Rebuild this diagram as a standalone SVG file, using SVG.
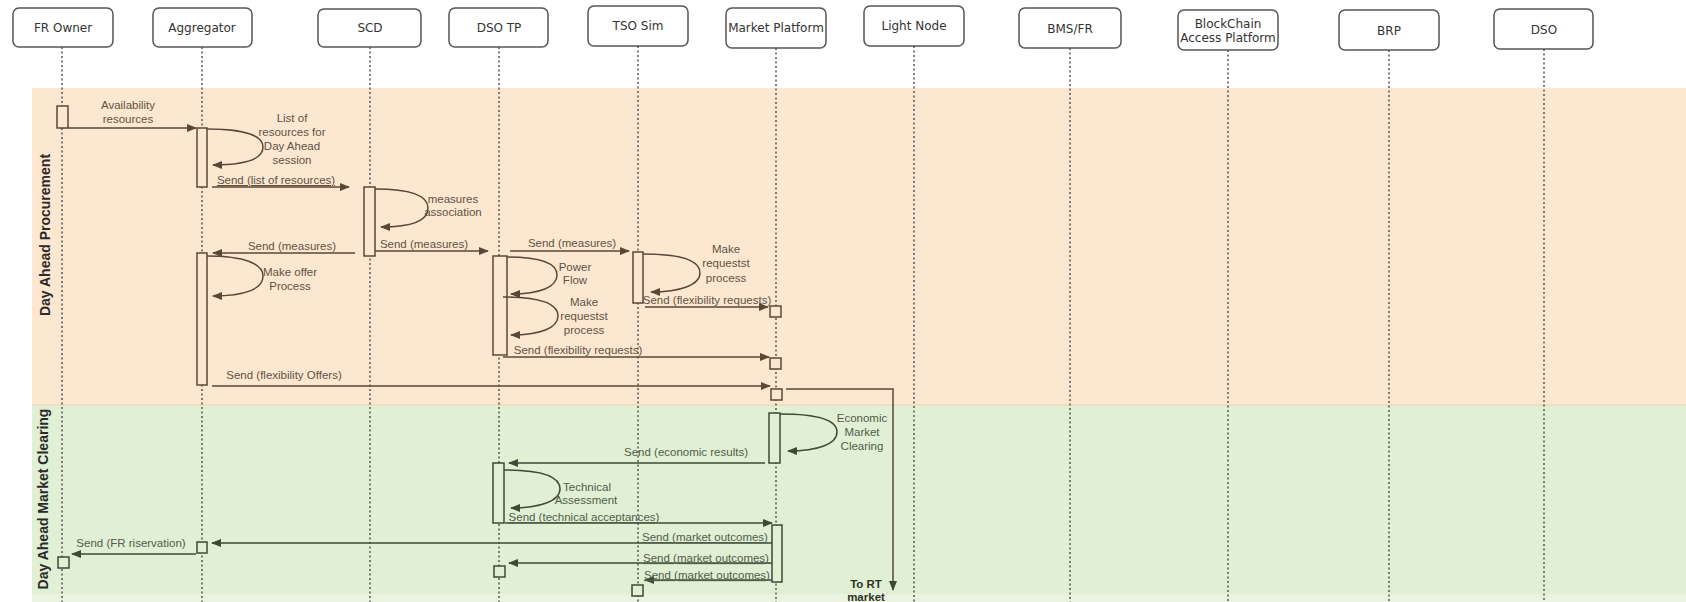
<svg xmlns="http://www.w3.org/2000/svg" width="1686" height="602" viewBox="0 0 1686 602">
  <style>
    .head rect { fill: #ffffff; stroke: #555555; stroke-width: 1.5; }
    .head text { font-family: "DejaVu Sans", Verdana, sans-serif; font-size: 12px; fill: #333333; text-anchor: middle; }
    .life { stroke: #555555; stroke-width: 1.5; stroke-dasharray: 2 2.5; fill: none; }
    .lane-title { font-family: "Liberation Sans", Arial, sans-serif; font-size: 14px; font-weight: bold; fill: #2a2a2a; text-anchor: middle; }
    .ln-o { stroke: #594838; stroke-width: 1.5; fill: none; }
    .ln-g { stroke: #3d4a35; stroke-width: 1.5; fill: none; }
    .act-o { fill: #fde7d1; stroke: #594838; stroke-width: 1.5; }
    .act-g { fill: #e1efd5; stroke: #3d4a35; stroke-width: 1.5; }
    .lbl { font-family: "Liberation Sans", Arial, sans-serif; font-size: 11.5px; text-anchor: middle; }
    .t-o { fill: #615244; }
    .t-g { fill: #515d4a; }
    .u { text-decoration: underline; }
  </style>
  <defs>
    <marker id="arr-o" markerUnits="userSpaceOnUse" markerWidth="10" markerHeight="8" refX="9" refY="4" orient="auto">
      <path d="M0,0 L10,4 L0,8 z" fill="#594838"/>
    </marker>
    <marker id="arr-g" markerUnits="userSpaceOnUse" markerWidth="10" markerHeight="8" refX="9" refY="4" orient="auto">
      <path d="M0,0 L10,4 L0,8 z" fill="#3d4a35"/>
    </marker>
  </defs>

  <!-- swimlane bands -->
  <g id="lanes">
    <rect x="32" y="88" width="1654" height="317" fill="#fde7d1"/>
    <rect x="32" y="405" width="1654" height="189" fill="#e1efd5"/>
    <rect x="32" y="594" width="1654" height="8" fill="#e9f3df"/>
    <line x1="32" y1="405" x2="1686" y2="405" stroke="#ead2b6" stroke-width="1"/>
    <text class="lane-title" transform="translate(45,235) rotate(-90)" dy="5">Day Ahead Procurement</text>
    <text class="lane-title" transform="translate(43,499) rotate(-90)" dy="5">Day Ahead Market Clearing</text>
  </g>

  <!-- lifelines -->
  <g id="lifelines">
    <line class="life" x1="62" y1="47" x2="62" y2="602"/>
    <line class="life" x1="202" y1="47" x2="202" y2="602"/>
    <line class="life" x1="370" y1="47" x2="370" y2="602"/>
    <line class="life" x1="499" y1="47" x2="499" y2="602"/>
    <line class="life" x1="638" y1="46" x2="638" y2="602"/>
    <line class="life" x1="776" y1="48" x2="776" y2="602"/>
    <line class="life" x1="914" y1="46" x2="914" y2="602"/>
    <line class="life" x1="1070" y1="48" x2="1070" y2="602"/>
    <line class="life" x1="1228" y1="50" x2="1228" y2="602"/>
    <line class="life" x1="1389" y1="50" x2="1389" y2="602"/>
    <line class="life" x1="1544" y1="49" x2="1544" y2="602"/>
  </g>

  <!-- participants -->
  <g id="fr-owner" class="head"><rect x="13" y="8" width="100" height="39" rx="6"/><text x="63" y="32">FR Owner</text></g>
  <g id="aggregator" class="head"><rect x="153" y="8" width="99" height="39" rx="6"/><text x="202" y="32">Aggregator</text></g>
  <g id="scd" class="head"><rect x="318" y="9" width="103" height="38" rx="6"/><text x="370" y="32">SCD</text></g>
  <g id="dso-tp" class="head"><rect x="449" y="8" width="99" height="39" rx="6"/><text x="499" y="32">DSO TP</text></g>
  <g id="tso-sim" class="head"><rect x="588" y="6" width="100" height="40" rx="6"/><text x="638" y="30">TSO Sim</text></g>
  <g id="market-platform" class="head"><rect x="726" y="8" width="100" height="40" rx="6"/><text x="776" y="32">Market Platform</text></g>
  <g id="light-node" class="head"><rect x="864" y="6" width="100" height="40" rx="6"/><text x="914" y="30">Light Node</text></g>
  <g id="bms-fr" class="head"><rect x="1019" y="8" width="102" height="40" rx="6"/><text x="1070" y="33">BMS/FR</text></g>
  <g id="blockchain" class="head"><rect x="1178" y="10" width="100" height="40" rx="6"/><text x="1228" y="28">BlockChain</text><text x="1228" y="42">Access Platform</text></g>
  <g id="brp" class="head"><rect x="1339" y="10" width="100" height="40" rx="6"/><text x="1389" y="35">BRP</text></g>
  <g id="dso" class="head"><rect x="1494" y="9" width="99" height="40" rx="6"/><text x="1544" y="34">DSO</text></g>

  <!-- activation bars and receipt boxes -->
  <g id="activations">
    <rect class="act-o" x="57" y="106" width="11" height="22"/>
    <rect class="act-o" x="197" y="128" width="10" height="59"/>
    <rect class="act-o" x="364" y="187" width="11" height="69"/>
    <rect class="act-o" x="197" y="253" width="10" height="132"/>
    <rect class="act-o" x="493" y="256" width="14" height="99"/>
    <rect class="act-o" x="633" y="252" width="10" height="51"/>
    <rect class="act-o" x="770" y="306" width="11" height="11"/>
    <rect class="act-o" x="770" y="358" width="11" height="11"/>
    <rect class="act-o" x="771" y="389" width="11" height="11"/>
    <rect class="act-g" x="769" y="413" width="11" height="50"/>
    <rect class="act-g" x="493" y="463" width="11" height="60"/>
    <rect class="act-g" x="772" y="525" width="10" height="57"/>
    <rect class="act-g" x="197" y="542" width="10" height="11"/>
    <rect class="act-g" x="58" y="557" width="11" height="11"/>
    <rect class="act-g" x="494" y="566" width="11" height="11"/>
    <rect class="act-g" x="632" y="585" width="11" height="11"/>
  </g>

  <!-- messages -->
  <g id="connectors">
    <!-- Day Ahead Procurement -->
    <path class="ln-o" d="M68,128 L196,128" marker-end="url(#arr-o)"/>
    <path class="ln-o" d="M207,129 C245,129 263,136 263,147 C263,159 245,165 213,165" marker-end="url(#arr-o)"/>
    <path class="ln-o" d="M212,187 L349,187" marker-end="url(#arr-o)"/>
    <path class="ln-o" d="M375,189 C412,189 428,196 428,208 C428,221 410,227 381,227" marker-end="url(#arr-o)"/>
    <path class="ln-o" d="M355,253 L213,253" marker-end="url(#arr-o)"/>
    <path class="ln-o" d="M375,251 L488,251" marker-end="url(#arr-o)"/>
    <path class="ln-o" d="M207,256 C245,256 263,264 263,276 C263,289 245,296 213,296" marker-end="url(#arr-o)"/>
    <path class="ln-o" d="M510,251 L629,251" marker-end="url(#arr-o)"/>
    <path class="ln-o" d="M507,257 C543,257 557,264 557,275 C557,287 540,294 511,294" marker-end="url(#arr-o)"/>
    <path class="ln-o" d="M503,297 C543,297 558,305 558,316 C558,328 540,335 511,335" marker-end="url(#arr-o)"/>
    <path class="ln-o" d="M643,254 C683,254 700,261 700,273 C700,285 680,292 651,292" marker-end="url(#arr-o)"/>
    <path class="ln-o" d="M645,307 L768,307" marker-end="url(#arr-o)"/>
    <path class="ln-o" d="M503,357 L769,357" marker-end="url(#arr-o)"/>
    <path class="ln-o" d="M212,386 L770,386" marker-end="url(#arr-o)"/>
    <path class="ln-o" d="M786,389 L893,389 L893,590" stroke="#4a4a38" marker-end="url(#arr-g)"/>
    <!-- Day Ahead Market Clearing -->
    <path class="ln-g" d="M780,414 C820,414 837,421 837,432 C837,444 818,451 788,451" marker-end="url(#arr-g)"/>
    <path class="ln-g" d="M765,463 L509,463" marker-end="url(#arr-g)"/>
    <path class="ln-g" d="M504,470 C543,470 560,477 560,489 C560,501 540,508 511,508" marker-end="url(#arr-g)"/>
    <path class="ln-g" d="M505,523 L772,523" marker-end="url(#arr-g)"/>
    <path class="ln-g" d="M772,543 L212,543" marker-end="url(#arr-g)"/>
    <path class="ln-g" d="M196,554 L72,554" marker-end="url(#arr-g)"/>
    <path class="ln-g" d="M772,563 L509,563" marker-end="url(#arr-g)"/>
    <path class="ln-g" d="M772,580 L645,580" marker-end="url(#arr-g)"/>
  </g>

  <!-- message labels -->
  <g id="labels" class="lbl">
    <text class="t-o" x="128" y="109">Availability</text>
    <text class="t-o" x="128" y="123">resources</text>
    <text class="t-o" x="292" y="122">List of</text>
    <text class="t-o" x="292" y="136">resources for</text>
    <text class="t-o" x="292" y="150">Day Ahead</text>
    <text class="t-o" x="292" y="164">session</text>
    <text class="t-o u" x="276" y="184">Send (list of resources)</text>
    <text class="t-o" x="453" y="203">measures</text>
    <text class="t-o" x="453" y="216">association</text>
    <text class="t-o" x="292" y="250">Send (measures)</text>
    <text class="t-o" x="424" y="248">Send (measures)</text>
    <text class="t-o" x="572" y="247">Send (measures)</text>
    <text class="t-o" x="290" y="276">Make offer</text>
    <text class="t-o" x="290" y="290">Process</text>
    <text class="t-o" x="575" y="271">Power</text>
    <text class="t-o" x="575" y="284">Flow</text>
    <text class="t-o" x="584" y="306">Make</text>
    <text class="t-o" x="584" y="320">requestst</text>
    <text class="t-o" x="584" y="334">process</text>
    <text class="t-o" x="726" y="253">Make</text>
    <text class="t-o" x="726" y="267">requestst</text>
    <text class="t-o" x="726" y="282">process</text>
    <text class="t-o" x="707" y="304">Send (flexibility requests)</text>
    <text class="t-o" x="578" y="354">Send (flexibility requests)</text>
    <text class="t-o" x="284" y="379">Send (flexibility Offers)</text>
    <text class="t-g" x="862" y="422">Economic</text>
    <text class="t-g" x="862" y="436">Market</text>
    <text class="t-g" x="862" y="450">Clearing</text>
    <text class="t-g" x="686" y="456">Send (economic results)</text>
    <text class="t-g" x="587" y="491">Technical</text>
    <text class="t-g" x="586" y="504">Assessment</text>
    <text class="t-g u" x="584" y="521">Send (technical acceptances)</text>
    <text class="t-g u" x="705" y="541">Send (market outcomes)</text>
    <text class="t-g u" x="706" y="562">Send (market outcomes)</text>
    <text class="t-g u" x="707" y="579">Send (market outcomes)</text>
    <text class="t-g" x="131" y="547">Send (FR riservation)</text>
    <text x="866" y="588" fill="#2e3328" font-weight="bold">To RT</text>
    <text x="866" y="601" fill="#2e3328" font-weight="bold">market</text>
  </g>
</svg>
